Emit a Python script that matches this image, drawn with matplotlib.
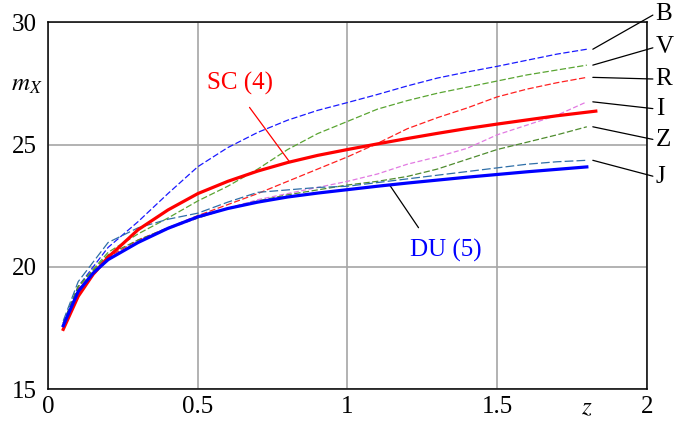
import numpy as np
import matplotlib
matplotlib.use('Agg')
import matplotlib.pyplot as plt
from matplotlib.transforms import blended_transform_factory

plt.rcParams['font.family'] = ['Liberation Serif', 'DejaVu Serif']
plt.rcParams['mathtext.fontset'] = 'stix'

# redshift grid of the band curves
z = [0.05, 0.1, 0.2, 0.3, 0.4, 0.5, 0.6, 0.7, 0.8, 0.9, 1.0,
     1.1, 1.2, 1.3, 1.4, 1.5, 1.6, 1.7, 1.8]

m_B = [17.7, 19.2, 20.8, 21.85, 23.0, 24.1, 24.88, 25.5, 26.0, 26.4, 26.72,
       27.05, 27.4, 27.72, 27.97, 28.2, 28.45, 28.7, 28.9]
m_V = [17.7, 19.2, 20.6, 21.35, 22.0, 22.7, 23.3, 24.0, 24.8, 25.45, 25.95,
       26.45, 26.8, 27.1, 27.35, 27.6, 27.85, 28.05, 28.25]
m_R = [17.7, 19.1, 20.4, 21.1, 21.6, 22.1, 22.55, 23.0, 23.5, 24.0, 24.5,
       25.05, 25.65, 26.1, 26.5, 26.95, 27.27, 27.53, 27.75]
m_I = [17.7, 19.0, 20.3, 21.0, 21.55, 22.0, 22.4, 22.75, 23.0, 23.25, 23.5,
       23.8, 24.2, 24.5, 24.85, 25.4, 25.8, 26.2, 26.75]
m_Z = [17.7, 19.2, 20.5, 21.1, 21.6, 22.0, 22.4, 22.7, 22.95, 23.15, 23.35,
       23.5, 23.7, 24.0, 24.4, 24.8, 25.1, 25.4, 25.73]
m_J = [17.8, 19.4, 21.0, 21.6, 21.95, 22.2, 22.65, 23.05, 23.15, 23.25, 23.3,
       23.45, 23.6, 23.75, 23.9, 24.05, 24.2, 24.3, 24.36]

# model curves
z_sc = [0.05, 0.1, 0.15, 0.2, 0.3, 0.4, 0.5, 0.6, 0.7, 0.8, 0.9, 1.0,
        1.1, 1.2, 1.3, 1.4, 1.5, 1.6, 1.7, 1.83]
m_sc = [17.45, 18.8, 19.7, 20.4, 21.52, 22.33, 23.0, 23.5, 23.92, 24.27, 24.56,
        24.8, 25.03, 25.25, 25.46, 25.66, 25.84, 26.01, 26.18, 26.37]
z_du = [0.05, 0.1, 0.15, 0.2, 0.3, 0.4, 0.5, 0.6, 0.7, 0.8, 0.9, 1.0,
        1.1, 1.2, 1.3, 1.4, 1.5, 1.6, 1.7, 1.8]
m_du = [17.6, 19.0, 19.75, 20.3, 21.0, 21.58, 22.05, 22.39, 22.65, 22.86,
        23.02, 23.16, 23.3, 23.43, 23.55, 23.67, 23.78, 23.89, 23.99, 24.09]

bands = ['B', 'V', 'R', 'I', 'Z', 'J']
band_vals = [m_B, m_V, m_R, m_I, m_Z, m_J]
band_cols = ['#1a1aff', '#5aa532', '#ff2020', '#e27ae2', '#4f8c2f', '#2f6fa8']
band_dash = [(5, 2), (5, 2), (5, 2), (4, 2), (5, 2), (7, 2.5)]
label_y = [30.36, 28.99, 27.68, 26.46, 25.19, 23.68]

fs = 18
fig = plt.figure(figsize=(6.78, 4.21), dpi=100)
ax = fig.add_axes([0.0712, 0.0753, 0.8826, 0.8717])

for name, vals, col, dsh in zip(bands, band_vals, band_cols, band_dash):
    ax.plot(z, vals, color=col, lw=0.9, dashes=dsh, zorder=3)

ax.plot(z_sc, m_sc, color='#ff0000', lw=2.3, zorder=4)
ax.plot(z_du, m_du, color='#0000ff', lw=2.3, zorder=4)

ax.set_xlim(0, 2)
ax.set_ylim(15, 30)
ax.set_xticks([0, 0.5, 1, 1.5, 2])
ax.set_xticklabels(['0', '0.5', '1', '1.5', '2'])
ax.set_yticks([15, 20, 25, 30])
ax.tick_params(length=0, labelsize=fs)
ax.tick_params(axis='y', pad=8)
ax.tick_params(axis='x', pad=5)
for lab in ax.get_yticklabels():
    lab.set_verticalalignment('center_baseline')
ax.grid(True, color='#a6a6a6', lw=1.2)
ax.set_axisbelow(True)
for sp in ax.spines.values():
    sp.set_linewidth(1.1)

# band labels with leader lines
for name, vals, ly in zip(bands, band_vals, label_y):
    ax.annotate(name, xy=(z[-1] + 0.02, vals[-1]), xytext=(2.03, ly),
                fontsize=fs, ha='left', va='center', annotation_clip=False,
                arrowprops=dict(arrowstyle='-', color='k', lw=0.9,
                                shrinkA=0, shrinkB=0,
                                relpos=(0, 0.5)))

ax.annotate('SC (4)', xy=(0.808, 24.27), xytext=(0.641, 27.52),
            fontsize=fs, color='#ff0000', ha='center', va='center',
            arrowprops=dict(arrowstyle='-', color='#ff0000', lw=0.9,
                            shrinkA=9, shrinkB=0, relpos=(0.5, 0)))
ax.annotate('DU (5)', xy=(1.142, 23.33), xytext=(1.329, 20.69),
            fontsize=fs, color='#0000ff', ha='center', va='center',
            arrowprops=dict(arrowstyle='-', color='k', lw=0.9,
                            shrinkA=7, shrinkB=0, relpos=(0.22, 1)))

trans = blended_transform_factory(ax.transData, ax.transAxes)
ax.text(1.80, -0.052, r'$z$', transform=trans, fontsize=fs,
        ha='center', va='center')
ax.text(-0.036, 0.83, r'$m_X$', transform=ax.transAxes, fontsize=fs,
        ha='center', va='center')

fig.savefig('out.png', dpi=100)
